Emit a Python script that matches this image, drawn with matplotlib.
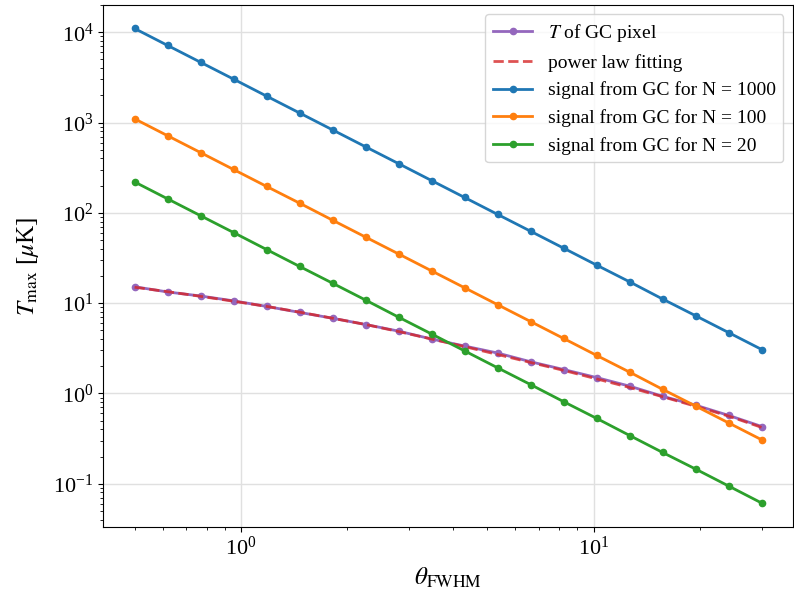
import matplotlib.pyplot as plt
import numpy as np

plt.rcParams['font.family'] = ['Liberation Serif', 'DejaVu Serif']
plt.rcParams['mathtext.fontset'] = 'stix'

theta = [0.5, 0.62, 0.769, 0.954, 1.184, 1.468, 1.822, 2.26, 2.80, 3.48,
         4.31, 5.35, 6.64, 8.23, 10.2, 12.7, 15.7, 19.5, 24.2, 30.0]

t_gc = [15.2, 13.3, 12.0, 10.6, 9.2, 7.9, 6.8, 5.8, 4.9, 4.0,
        3.35, 2.8, 2.24, 1.84, 1.5, 1.2, 0.93, 0.74, 0.57, 0.43]
t_fit = [15.0, 13.4, 11.9, 10.5, 9.2, 7.95, 6.8, 5.8, 4.85, 4.0,
         3.3, 2.7, 2.2, 1.8, 1.45, 1.16, 0.92, 0.72, 0.56, 0.42]

sig_1000 = [11000, 7150, 4650, 3025, 1960, 1276, 828, 538, 351, 227,
            148, 96, 62.4, 40.6, 26.4, 17.1, 11.1, 7.23, 4.70, 3.06]
sig_100 = [1100, 715, 465, 302, 196, 128, 82.8, 53.8, 35.1, 22.7,
           14.8, 9.6, 6.24, 4.06, 2.64, 1.71, 1.11, 0.723, 0.470, 0.306]
sig_20 = [220, 143, 93, 60.5, 39.2, 25.5, 16.6, 10.8, 7.0, 4.54,
          2.96, 1.92, 1.25, 0.81, 0.53, 0.34, 0.222, 0.145, 0.094, 0.061]

x = np.array(theta)

fig = plt.figure(figsize=(7.94, 5.96), dpi=100)
ax = fig.add_subplot(111)
fig.subplots_adjust(left=0.13, right=0.999, top=0.992, bottom=0.116)

ax.plot(x, t_gc, color='tab:purple', marker='o', ms=4.5, lw=2, label=r'$T$ of GC pixel')
ax.plot(x, t_fit, color='tab:red', ls='--', lw=2, alpha=0.8, label='power law fitting')
ax.plot(x, sig_1000, color='tab:blue', marker='o', ms=4.5, lw=2, label='signal from GC for N = 1000')
ax.plot(x, sig_100, color='tab:orange', marker='o', ms=4.5, lw=2, label='signal from GC for N = 100')
ax.plot(x, sig_20, color='tab:green', marker='o', ms=4.5, lw=2, label='signal from GC for N = 20')

ax.set_xscale('log')
ax.set_yscale('log')
ax.grid(True, which='major', color='#e0e0e0', lw=1)

ax.set_xlabel(r'$\theta_{\rm FWHM}$', fontsize=18)
ax.set_ylabel(r'$T_{\rm max}$ [$\mu$K]', fontsize=18)
ax.yaxis.set_label_coords(-0.09, 0.5)
ax.tick_params(labelsize=16)

ax.legend(loc='upper right', fontsize=14)

fig.savefig('out.png')
